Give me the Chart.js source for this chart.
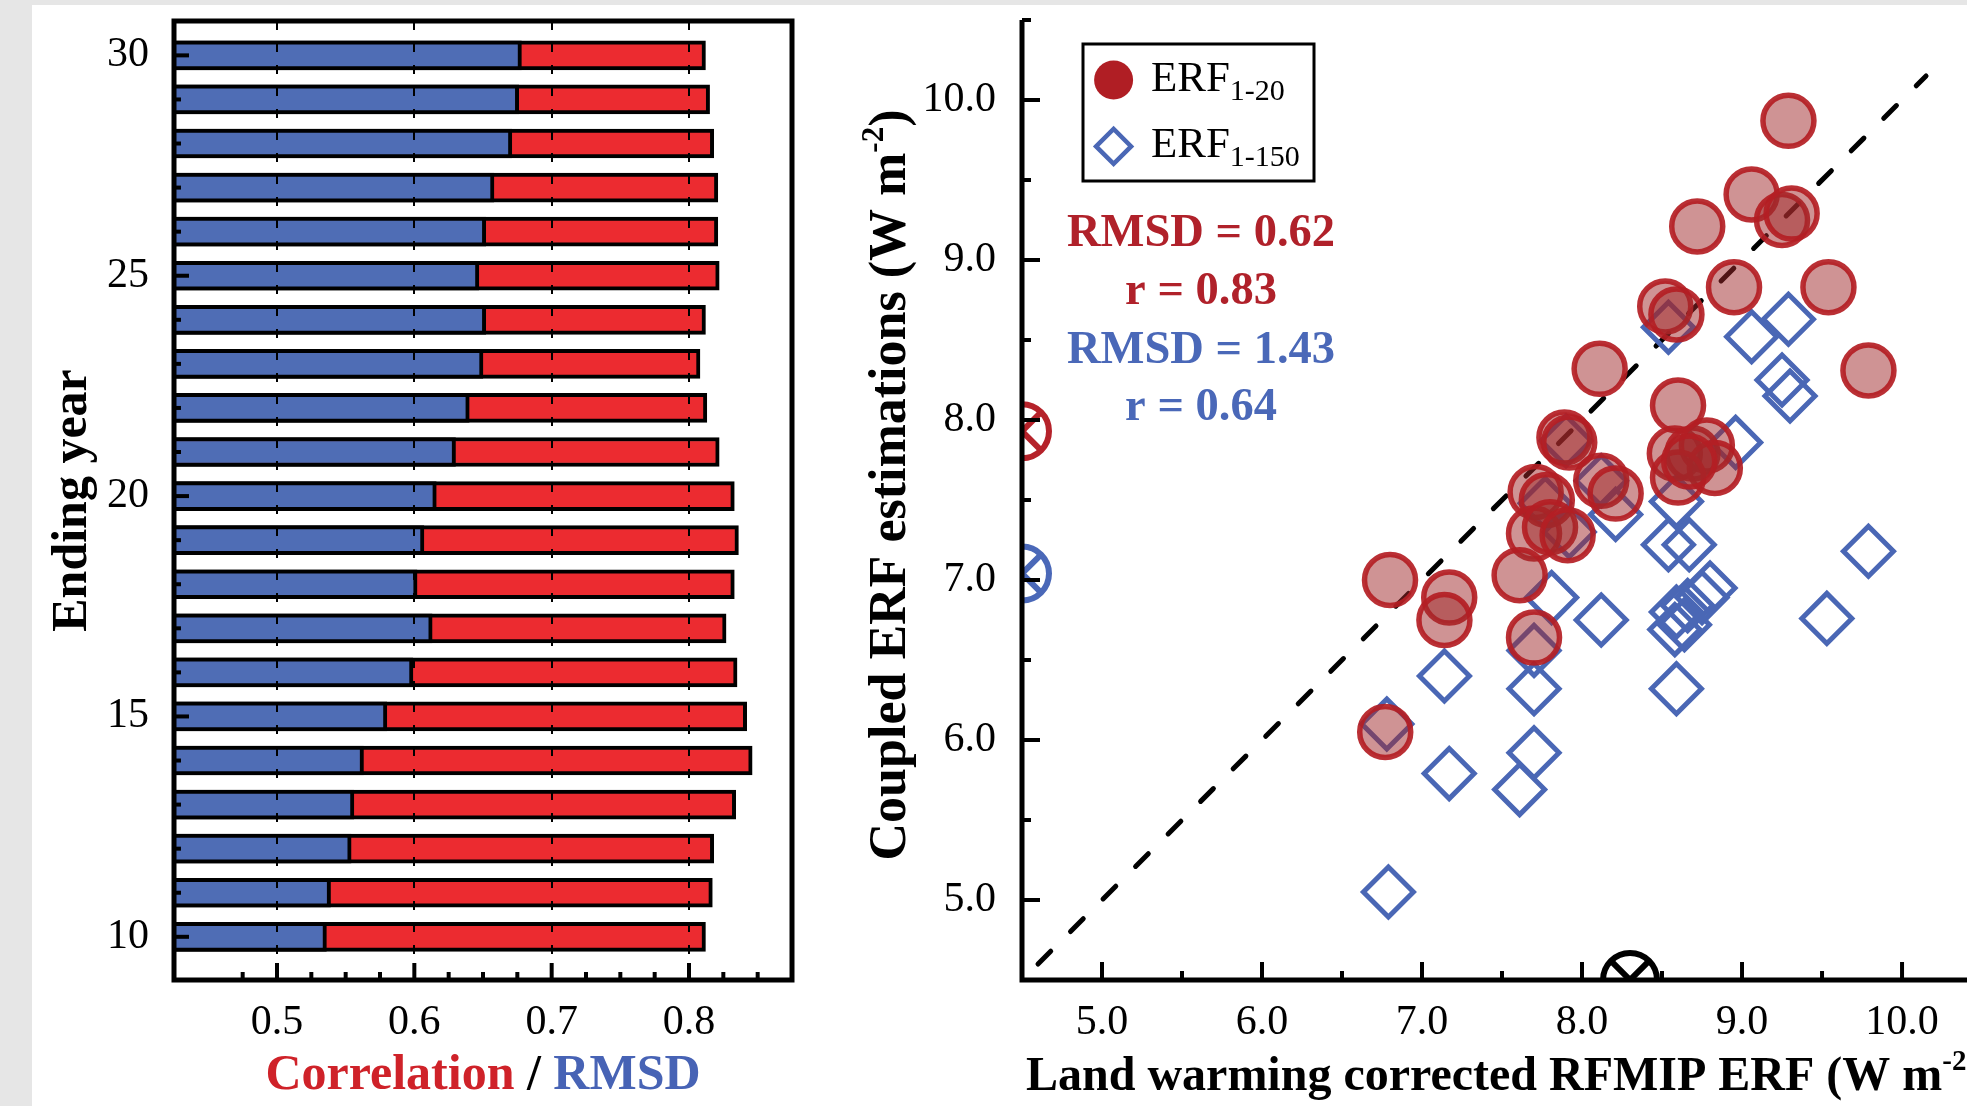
<!DOCTYPE html>
<html>
<head>
<meta charset="utf-8">
<script src="https://cdn.jsdelivr.net/npm/chart.js@4.4.1/dist/chart.umd.min.js"></script>
<style>
  html, body { margin: 0; padding: 0; width: 1967px; height: 1106px; overflow: hidden; background: #e6e6e6; }
  #sheet { position: absolute; left: 32px; top: 5px; right: 0; bottom: 0; background: #fff; }
  #left { position: absolute; left: 0; top: 0; }
  #right { position: absolute; left: 860px; top: 0; }
</style>
</head>
<body>
<div id="sheet"></div>
<canvas id="left" width="860" height="1106" style="width:860px;height:1106px"></canvas>
<canvas id="right" width="1107" height="1106" style="width:1107px;height:1106px"></canvas>
<script>
// left panel: ending year vs correlation / RMSD
const years = [10, 11, 12, 13, 14, 15, 16, 17, 18, 19, 20, 21, 22, 23, 24, 25, 26, 27, 28, 29, 30];
const rmsdValues = [0.536, 0.539, 0.554, 0.556, 0.563, 0.580, 0.599, 0.613, 0.602, 0.607, 0.616,
                    0.630, 0.640, 0.650, 0.652, 0.647, 0.652, 0.658, 0.671, 0.676, 0.678];
const corrValues = [0.812, 0.817, 0.818, 0.834, 0.846, 0.842, 0.835, 0.827, 0.833, 0.836, 0.833,
                    0.822, 0.813, 0.808, 0.812, 0.822, 0.821, 0.821, 0.818, 0.815, 0.812];
const corrTicks = [0.5, 0.6, 0.7, 0.8];
const yearLabels = [10, 15, 20, 25, 30];

// right panel: coupled ERF vs corrected RFMIP ERF
const erf20X = [9.29, 9.06, 9.25, 9.31, 8.72, 8.95, 9.54, 8.52, 8.59, 9.79, 8.11, 8.60, 7.89, 7.92, 8.58, 8.69, 8.78,
                8.83, 8.60, 8.67, 8.12, 8.21, 7.71, 7.78, 7.70, 7.80, 7.91, 7.61, 7.70, 6.80, 7.17, 7.14, 6.77];
const erf20Y = [9.87, 9.41, 9.25, 9.29, 9.21, 8.83, 8.83, 8.71, 8.66, 8.31, 8.32, 8.09, 7.89, 7.86, 7.79, 7.79, 7.84,
                7.70, 7.64, 7.74, 7.62, 7.54, 7.55, 7.50, 7.29, 7.33, 7.28, 7.03, 6.64, 7.00, 6.89, 6.75, 6.05];
const erf150X = [9.29, 9.06, 9.25, 9.30, 8.54, 8.96, 7.90, 8.12, 8.21, 8.59, 8.54, 8.67, 9.79, 7.77, 7.92, 7.81, 7.70,
                 7.70, 7.14, 8.12, 8.59, 8.59, 8.58, 8.66, 8.75, 8.80, 8.64, 9.53, 6.78, 7.17, 7.70, 7.61, 6.79];
const erf150Y = [8.63, 8.52, 8.25, 8.15, 8.58, 7.86, 7.87, 7.62, 7.41, 7.49, 7.22, 7.22, 7.18, 7.48, 7.30, 6.89, 6.56,
                 6.32, 6.40, 6.75, 6.32, 6.80, 6.69, 6.84, 6.89, 6.95, 6.72, 6.76, 6.10, 5.79, 5.92, 5.69, 5.05];
const oneToOne = [4.6, 10.15];
const erfTicks = [5, 6, 7, 8, 9, 10];
const markRed = [4.5, 7.93];
const markBlue = [4.5, 7.04];
const markBlack = [8.30, 4.5];
const statText = ['RMSD = 0.62', 'r = 0.83', 'RMSD = 1.43', 'r = 0.64'];

const barBlue = '#4f6db5';
const barRed = '#ec2b30';
const textRed = '#cf2229';
const textBlue = '#4763b5';
const statRed = '#b0212a';
const statBlue = '#4a68b8';
const circleEdge = 'rgba(180, 30, 36, 0.92)';
const circleFill = 'rgba(160, 40, 42, 0.5)';
const diamondEdge = '#4a67b5';
const serif = '"Liberation Serif"';

const pts = (xs, ys) => xs.map((v, i) => ({x: v, y: ys[i]}));
const fixTicks = list => s => { s.ticks = list.map(v => ({value: v})); };

function drawRich(ctx, parts, x, y, align) {
  let w = 0;
  parts.forEach(p => { ctx.font = p.font; p.w = ctx.measureText(p.t).width; w += p.w; });
  let cx = align === 'center' ? x - w / 2 : x;
  ctx.textAlign = 'left';
  ctx.textBaseline = 'alphabetic';
  parts.forEach(p => {
    ctx.font = p.font;
    ctx.fillStyle = p.color || '#000';
    ctx.fillText(p.t, cx, y + (p.dy || 0));
    cx += p.w;
  });
}

function tick(ctx, x1, y1, x2, y2) {
  ctx.beginPath();
  ctx.moveTo(x1, y1);
  ctx.lineTo(x2, y2);
  ctx.stroke();
}

const leftDecor = {
  id: 'leftDecor',
  afterDatasetsDraw(chart) {
    const {ctx, chartArea: a, scales: {x, y}} = chart;
    ctx.save();
    ctx.strokeStyle = '#000';
    ctx.lineWidth = 2;
    ctx.setLineDash([9, 13]);
    corrTicks.forEach(v => {
      const px = Math.round(x.getPixelForValue(v));
      tick(ctx, px, a.top, px, a.bottom);
    });
    ctx.setLineDash([]);
    ctx.lineWidth = 4;
    for (let k = 19; k <= 34; k++) {
      const px = x.getPixelForValue(k * 0.025);
      tick(ctx, px, a.bottom, px, a.bottom - (k % 4 === 0 ? 17 : 8));
    }
    years.forEach(yr => {
      const py = y.getPixelForValue(yr);
      tick(ctx, a.left, py, a.left + (yearLabels.includes(yr) ? 15 : 7), py);
    });
    ctx.lineWidth = 5;
    ctx.strokeRect(a.left, a.top, a.right - a.left, a.bottom - a.top);
    ctx.restore();
  },
  afterDraw(chart) {
    const {ctx, chartArea: a} = chart;
    ctx.save();
    const f = 'bold 50px ' + serif;
    drawRich(ctx, [
      {t: 'Correlation', font: f, color: textRed},
      {t: ' / ', font: f, color: '#000'},
      {t: 'RMSD', font: f, color: textBlue}
    ], (a.left + a.right) / 2, 1089, 'center');
    ctx.translate(86, (a.top + a.bottom) / 2);
    ctx.rotate(-Math.PI / 2);
    drawRich(ctx, [{t: 'Ending year', font: f}], 0, 0, 'center');
    ctx.restore();
  }
};

new Chart(document.getElementById('left'), {
  type: 'bar',
  data: {
    datasets: [
      {
        label: 'RMSD', data: pts(rmsdValues, years), base: 0.425, clip: 0,
        backgroundColor: barBlue, borderColor: '#000', borderWidth: 4,
        barThickness: 29, grouped: false
      },
      {
        label: 'Correlation', data: pts(corrValues, years), base: 0.425, clip: 0,
        backgroundColor: barRed, borderColor: '#000', borderWidth: 4,
        barThickness: 29, grouped: false
      }
    ]
  },
  options: {
    indexAxis: 'y',
    responsive: false,
    animation: false,
    events: [],
    layout: {autoPadding: false, padding: {top: 21, right: 68, left: 0, bottom: 0}},
    plugins: {legend: {display: false}, tooltip: {enabled: false}},
    scales: {
      x: {
        type: 'linear', min: 0.425, max: 0.875, offset: false,
        grid: {display: false, drawTicks: false}, border: {display: false},
        ticks: {autoSkip: false, maxRotation: 0, padding: 18,
                color: '#000', font: {family: serif, size: 42}, callback: v => v.toFixed(1)},
        afterBuildTicks: fixTicks(corrTicks),
        afterFit: s => { s.height = 126; s.paddingLeft = 0; s.paddingRight = 0; }
      },
      y: {
        type: 'linear', min: 9.02, max: 30.78, offset: false,
        grid: {display: false, drawTicks: false, offset: false}, border: {display: false},
        ticks: {autoSkip: false, padding: 25,
                color: '#000', font: {family: serif, size: 42}},
        afterBuildTicks: fixTicks(yearLabels),
        afterFit: s => { s.width = 174; s.paddingTop = 0; s.paddingBottom = 0; }
      }
    }
  },
  plugins: [leftDecor]
});

const rightDecor = {
  id: 'rightDecor',
  afterDatasetsDraw(chart) {
    const {ctx, chartArea: a, scales: {x, y}} = chart;
    ctx.save();
    ctx.strokeStyle = '#000';
    ctx.lineWidth = 4;
    erfTicks.forEach(v => {
      const px = x.getPixelForValue(v);
      tick(ctx, px, a.bottom, px, a.bottom - 18);
      const mx = x.getPixelForValue(v + 0.5);
      tick(ctx, mx, a.bottom, mx, a.bottom - 9);
      const py = y.getPixelForValue(v);
      tick(ctx, a.left, py, a.left + 18, py);
      const my = y.getPixelForValue(v + 0.5);
      tick(ctx, a.left, my, a.left + 9, my);
    });
    ctx.lineWidth = 5;
    ctx.beginPath();
    ctx.moveTo(a.left, a.top);
    ctx.lineTo(a.left, a.bottom);
    ctx.lineTo(a.right, a.bottom);
    ctx.stroke();
    ctx.restore();
  },
  afterDraw(chart) {
    const {ctx} = chart;
    ctx.save();
    // legend
    ctx.strokeStyle = '#000';
    ctx.lineWidth = 3;
    ctx.strokeRect(223, 44, 231, 137);
    ctx.fillStyle = '#b01e24';
    ctx.beginPath();
    ctx.arc(253.6, 80, 19.5, 0, Math.PI * 2);
    ctx.fill();
    ctx.strokeStyle = diamondEdge;
    ctx.lineWidth = 4.5;
    ctx.beginPath();
    ctx.moveTo(253.6 - 17.5, 146.4);
    ctx.lineTo(253.6, 146.4 - 17.5);
    ctx.lineTo(253.6 + 17.5, 146.4);
    ctx.lineTo(253.6, 146.4 + 17.5);
    ctx.closePath();
    ctx.stroke();
    const lf = '43px ' + serif, sf = '30px ' + serif;
    drawRich(ctx, [{t: 'ERF', font: lf}, {t: '1-20', font: sf, dy: 9}], 291, 91);
    drawRich(ctx, [{t: 'ERF', font: lf}, {t: '1-150', font: sf, dy: 9}], 291, 157);
    // statistics
    const bf = 'bold 46.5px ' + serif;
    const statY = [246, 304, 362.5, 420];
    statText.forEach((t, i) => {
      drawRich(ctx, [{t: t, font: bf, color: i < 2 ? statRed : statBlue}], 341, statY[i], 'center');
    });
    // axis titles
    const tf = 'bold 48px ' + serif, supf = 'bold 29px ' + serif;
    drawRich(ctx, [
      {t: 'Land warming corrected RFMIP ERF (W m', font: tf},
      {t: '-2', font: supf, dy: -20},
      {t: ')', font: tf}
    ], 166, 1090);
    const yf = 'bold 52px ' + serif, ysup = 'bold 31px ' + serif;
    ctx.translate(45, 485);
    ctx.rotate(-Math.PI / 2);
    drawRich(ctx, [
      {t: 'Coupled ERF estimations (W m', font: yf},
      {t: '-2', font: ysup, dy: -22},
      {t: ')', font: yf}
    ], 0, 0, 'center');
    ctx.restore();
  }
};

const markSet = (m, color, style) => ({
  data: [{x: m[0], y: m[1]}], showLine: false, clip: 0,
  pointStyle: style, pointRadius: 27, pointBorderWidth: 6,
  pointBorderColor: color, pointBackgroundColor: 'rgba(0,0,0,0)'
});

new Chart(document.getElementById('right'), {
  type: 'scatter',
  data: {
    datasets: [
      {
        label: 'ERF1-20', data: pts(erf20X, erf20Y), pointStyle: 'circle',
        pointRadius: 25.5, pointBorderWidth: 5.5,
        pointBackgroundColor: circleFill, pointBorderColor: circleEdge
      },
      {
        label: 'ERF1-150', data: pts(erf150X, erf150Y), pointStyle: 'rectRot',
        pointRadius: 25, pointBorderWidth: 5,
        pointBackgroundColor: 'rgba(0,0,0,0)', pointBorderColor: diamondEdge
      },
      {
        label: '1:1', data: pts(oneToOne, oneToOne), showLine: true, pointRadius: 0,
        borderColor: '#000', borderWidth: 5, borderDash: [18, 28], borderCapStyle: 'round'
      },
      markSet(markRed, '#b5222a', 'circle'),
      markSet(markRed, '#b5222a', 'crossRot'),
      markSet(markBlue, '#4a68b8', 'circle'),
      markSet(markBlue, '#4a68b8', 'crossRot'),
      markSet(markBlack, '#000', 'circle'),
      markSet(markBlack, '#000', 'crossRot')
    ]
  },
  options: {
    responsive: false,
    animation: false,
    events: [],
    layout: {autoPadding: false, padding: {top: 20, right: 0, left: 0, bottom: 0}},
    plugins: {legend: {display: false}, tooltip: {enabled: false}},
    scales: {
      x: {
        type: 'linear', min: 4.5, max: 10.406,
        grid: {display: false, drawTicks: false}, border: {display: false},
        ticks: {autoSkip: false, maxRotation: 0, padding: 18,
                color: '#000', font: {family: serif, size: 42}, callback: v => v.toFixed(1)},
        afterBuildTicks: fixTicks(erfTicks),
        afterFit: s => { s.height = 126; s.paddingLeft = 0; s.paddingRight = 0; }
      },
      y: {
        type: 'linear', min: 4.5, max: 10.5,
        grid: {display: false, drawTicks: false}, border: {display: false},
        ticks: {autoSkip: false, padding: 26,
                color: '#000', font: {family: serif, size: 42}, callback: v => v.toFixed(1)},
        afterBuildTicks: fixTicks(erfTicks),
        afterFit: s => { s.width = 162; s.paddingTop = 0; s.paddingBottom = 0; }
      }
    }
  },
  plugins: [rightDecor]
});
</script>
</body>
</html>
